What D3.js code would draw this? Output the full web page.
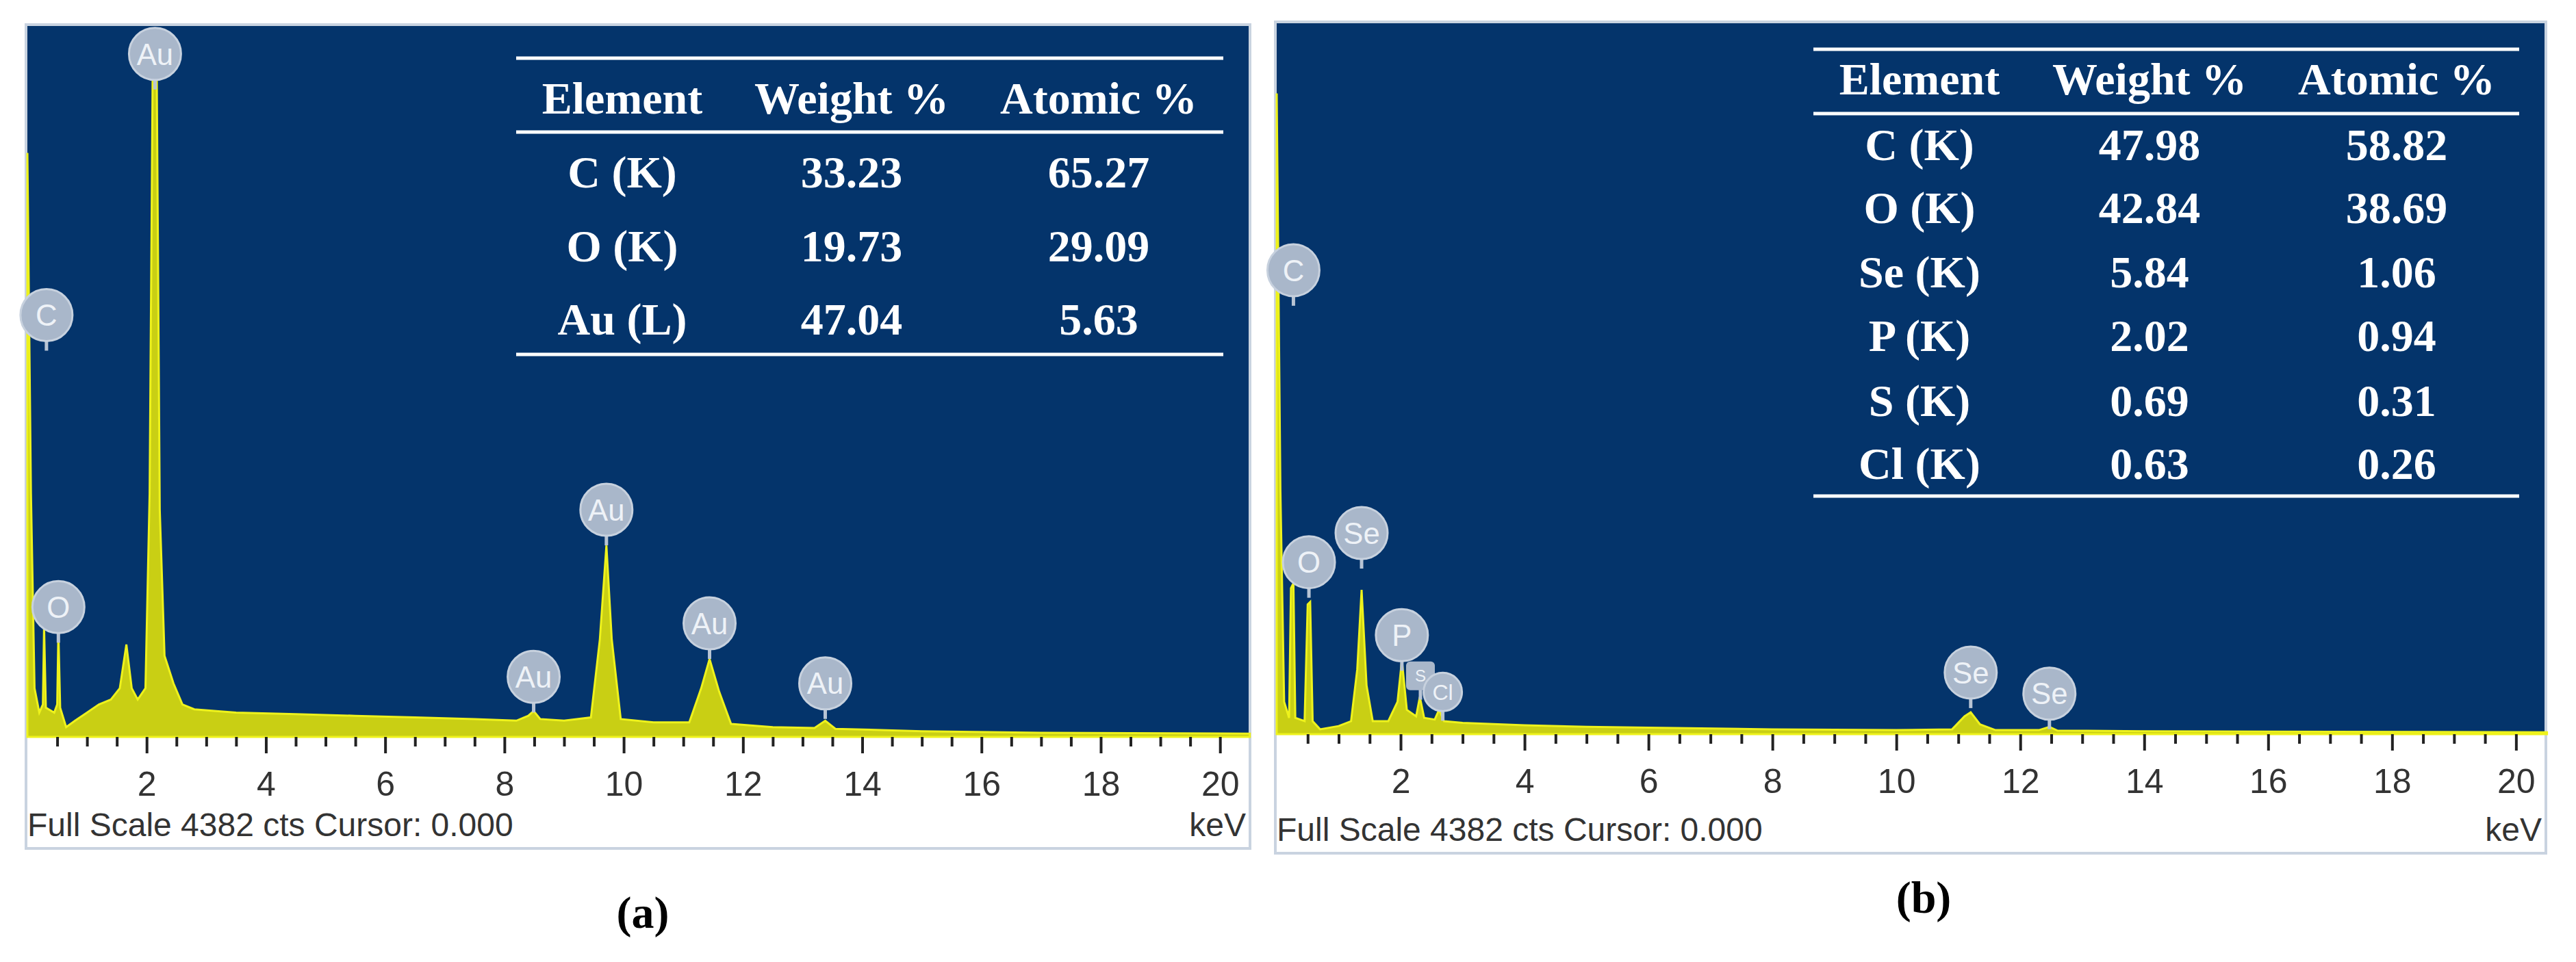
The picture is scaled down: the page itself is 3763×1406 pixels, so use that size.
<!DOCTYPE html>
<html><head><meta charset="utf-8">
<script src="https://cdn.jsdelivr.net/npm/d3@7"></script>
<style>body{margin:0;background:#fff}</style>
</head><body>
<svg id="chart" width="3763" height="1406"></svg>
<script>
// spectrum (a): [keV, counts]
const spectrumA = [[0,3600],[0.06,1500],[0.12,300],[0.2,150],[0.26,200],[0.28,680],[0.31,180],[0.45,150],[0.5,200],[0.52,650],[0.55,180],[0.65,60],[0.8,100],[1.0,150],[1.2,200],[1.4,230],[1.55,300],[1.66,570],[1.75,300],[1.85,230],[1.98,300],[2.05,1500],[2.1,4050],[2.17,4050],[2.22,1400],[2.3,500],[2.45,330],[2.6,200],[2.8,170],[3.5,150],[4.5,140],[5.5,130],[6.5,120],[7.5,110],[8.2,100],[8.4,130],[8.49,160],[8.6,110],[9.0,100],[9.45,120],[9.6,600],[9.71,1180],[9.8,600],[9.95,110],[10.5,90],[11.1,90],[11.3,300],[11.44,480],[11.6,280],[11.8,80],[12.5,60],[13.2,55],[13.38,100],[13.55,50],[15,35],[17,25],[20.5,20]];
// spectrum (b)
const spectrumB = [[0,3950],[0.06,1500],[0.12,200],[0.2,100],[0.23,900],[0.27,930],[0.3,100],[0.45,80],[0.5,800],[0.54,815],[0.58,80],[0.7,30],[1.0,50],[1.2,80],[1.3,400],[1.37,890],[1.45,300],[1.55,80],[1.8,80],[1.95,200],[2.02,455],[2.1,150],[2.25,110],[2.31,230],[2.38,100],[2.55,90],[2.62,150],[2.7,80],[3.0,70],[4,55],[5,45],[6,40],[8,30],[10,25],[10.9,30],[11.1,110],[11.2,135],[11.35,60],[11.6,25],[12.3,25],[12.47,45],[12.6,22],[14,18],[17,15],[20.5,12]];
const labelsA = [["Au",2.14,4210],["C",0.32,2600],["O",0.52,800],["Au",8.49,370],["Au",9.71,1400],["Au",11.44,700],["Au",13.38,330]];
const labelsB = [["C",0.27,2860],["O",0.52,1060],["Se",1.37,1240],["P",2.02,610],["S",2.32,360],["Cl",2.68,260],["Se",11.2,380],["Se",12.47,250]];
const tableHead = ["Element","Weight %","Atomic %"];
const tableA = [["C (K)","33.23","65.27"],["O (K)","19.73","29.09"],["Au (L)","47.04","5.63"]];
const tableB = [["C (K)","47.98","58.82"],["O (K)","42.84","38.69"],["Se (K)","5.84","1.06"],["P (K)","2.02","0.94"],["S (K)","0.69","0.31"],["Cl (K)","0.63","0.26"]];
const majorTicks = [2,4,6,8,10,12,14,16,18,20];

const svg = d3.select("#chart");
const BLUE = "#04346b";

function panel(cfg) {
  const g = svg.append("g");
  const x = d3.scaleLinear().domain([0, cfg.xmax]).range([cfg.left, cfg.right]);
  const y = d3.scaleLinear().domain([0, 4382]).range([cfg.base, cfg.top]);
  // frame
  g.append("rect").attr("x", cfg.left - 2).attr("y", cfg.top - 2)
    .attr("width", cfg.right - cfg.left + 4).attr("height", cfg.bottom - cfg.top + 4)
    .attr("fill", "#fff").attr("stroke", "#c9d3e0").attr("stroke-width", 4);
  g.append("rect").attr("x", cfg.left).attr("y", cfg.top)
    .attr("width", cfg.right - cfg.left).attr("height", cfg.base - cfg.top).attr("fill", BLUE);

  const area = d3.area().x(d => x(d[0])).y0(y(0)).y1(d => y(d[1]));
  g.append("path").datum(cfg.data).attr("d", area)
    .attr("fill", "#c9cf14").attr("stroke", "#eef21c").attr("stroke-width", 3);

  // axis
  const ax = d3.axisBottom(x).tickValues(d3.range(0.5, cfg.xmax, 0.5))
    .tickSize(14).tickFormat(d => majorTicks.includes(d) ? d : "");
  const axg = g.append("g").attr("transform", `translate(0,${cfg.base})`).call(ax);
  axg.select(".domain").remove();
  axg.selectAll(".tick line").attr("stroke", "#222").attr("stroke-width", 4)
    .attr("y2", d => majorTicks.includes(d) ? 24 : 14);
  axg.selectAll(".tick text").attr("y", 50).attr("dy", "0.71em")
    .attr("font-family", "Liberation Sans, Arial").attr("font-size", 50).attr("fill", "#333");

  g.append("text").attr("x", cfg.left).attr("y", cfg.bottom - 16)
    .attr("font-family", "Liberation Sans, Arial").attr("font-size", 48).attr("fill", "#333")
    .text("Full Scale 4382 cts Cursor: 0.000");
  g.append("text").attr("x", cfg.right - 4).attr("y", cfg.bottom - 16).attr("text-anchor", "end")
    .attr("font-family", "Liberation Sans, Arial").attr("font-size", 48).attr("fill", "#333").text("keV");

  // peak labels
  cfg.labels.forEach(([t, k, c]) => {
    const r = t === "S" ? 21 : (t === "Cl" ? 28 : 38);
    const cx = x(k), cy = y(c);
    g.append("line").attr("x1", cx).attr("x2", cx).attr("y1", cy + r - 4).attr("y2", cy + r + 14)
      .attr("stroke", "#b8c4d4").attr("stroke-width", 5);
    if (t === "S") {
      g.append("rect").attr("x", cx - r).attr("y", cy - r).attr("width", 2 * r).attr("height", 2 * r)
        .attr("rx", 6).attr("fill", "#a9b7ca");
    } else {
      g.append("circle").attr("cx", cx).attr("cy", cy).attr("r", r).attr("fill", "#a9b7ca")
        .attr("stroke", "#c7d1de").attr("stroke-width", 3);
    }
    g.append("text").attr("x", cx).attr("y", cy).attr("dy", "0.36em").attr("text-anchor", "middle")
      .attr("font-family", "Liberation Sans, Arial").attr("font-size", r * 1.15)
      .attr("fill", "#eef2f7").text(t);
  });

  // table
  const tf = "Liberation Serif, Times New Roman";
  const line = yy => g.append("line").attr("x1", cfg.tx0).attr("x2", cfg.tx1).attr("y1", yy).attr("y2", yy)
    .attr("stroke", "#fff").attr("stroke-width", 5);
  line(cfg.tTop); line(cfg.tMid); line(cfg.tBot);
  tableHead.forEach((h, i) => g.append("text").attr("x", cfg.cols[i]).attr("y", cfg.headY).attr("dy", "0.35em")
    .attr("text-anchor", "middle").attr("font-family", tf).attr("font-weight", "bold")
    .attr("font-size", 66).attr("fill", "#fff").text(h));
  cfg.table.forEach((row, j) => row.forEach((v, i) =>
    g.append("text").attr("x", cfg.cols[i]).attr("y", cfg.rowY[j]).attr("dy", "0.35em")
      .attr("text-anchor", "middle").attr("font-family", tf).attr("font-weight", "bold")
      .attr("font-size", 66).attr("fill", "#fff").text(v)));

  svg.append("text").attr("x", cfg.capX).attr("y", cfg.capY).attr("text-anchor", "middle")
    .attr("font-family", tf).attr("font-weight", "bold").attr("font-size", 66).text(cfg.cap);
}

panel({left: 40, right: 1824, top: 38, base: 1077, bottom: 1238, xmax: 20.48, data: spectrumA, labels: labelsA,
  tx0: 754, tx1: 1787, tTop: 85, tMid: 193, tBot: 518, headY: 143, cols: [909, 1244, 1605],
  rowY: [251, 359, 466], table: tableA, cap: "(a)", capX: 939, capY: 1356});
panel({left: 1865, right: 3717, top: 34, base: 1073, bottom: 1245, xmax: 20.46, data: spectrumB, labels: labelsB,
  tx0: 2649, tx1: 3680, tTop: 72, tMid: 166, tBot: 725, headY: 115, cols: [2804, 3140, 3501],
  rowY: [211, 303, 397, 490, 585, 677], table: tableB, cap: "(b)", capX: 2810, capY: 1334});
</script>
</body></html>
